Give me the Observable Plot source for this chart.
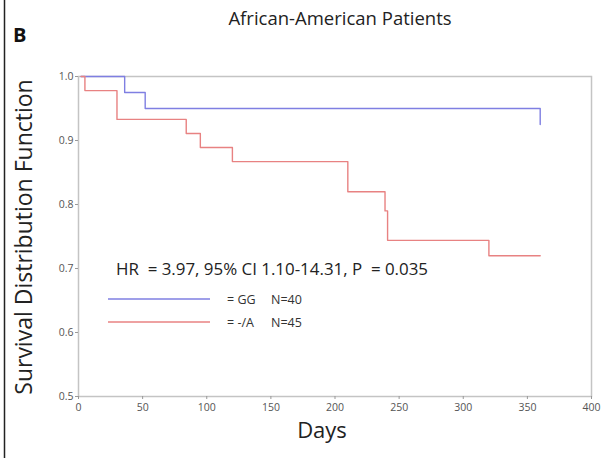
<!DOCTYPE html>
<html>
<head>
<meta charset="utf-8">
<script src="https://cdn.jsdelivr.net/npm/d3@7"></script>
<script src="https://cdn.jsdelivr.net/npm/@observablehq/plot@0.6"></script>
<style>
  body { margin: 0; background: #fff; }
  svg { font-family: "Open Sans", sans-serif; }
</style>
</head>
<body>
<div id="chart"></div>
<script>
// Data
const groups = ["= GG", "= -/A"];
const groupN = ["N=40", "N=45"];
const ggDays = [2, 36, 52, 360];
const ggSurv = [1.0, 0.975, 0.95, 0.925];
const aDays = [2, 5, 30, 84, 95, 120, 210, 239, 241, 320, 360];
const aSurv = [1.0, 0.978, 0.933, 0.911, 0.889, 0.867, 0.82, 0.79, 0.744, 0.72, 0.72];
const xTicks = [0, 50, 100, 150, 200, 250, 300, 350, 400];
const yTicks = [0.5, 0.6, 0.7, 0.8, 0.9, 1.0];
const colors = ["#7f7fe2", "#e88282"];
const title = "African-American Patients";
const panel = "B";
const statText = "HR\u00a0 = 3.97, 95% CI 1.10-14.31, P\u00a0 = 0.035";

const rows = [
  ...ggDays.map((d, i) => ({day: d, surv: ggSurv[i], group: groups[0]})),
  ...aDays.map((d, i) => ({day: d, surv: aSurv[i], group: groups[1]}))
];

const W = 602, H = 458;
const plot = Plot.plot({
  width: W, height: H,
  marginLeft: 78, marginRight: 11, marginTop: 76, marginBottom: 62,
  style: {fontFamily: "Open Sans, sans-serif", fontSize: "10.5px", color: "#555", background: "#fff"},
  x: {domain: [0, 400], ticks: xTicks, label: null},
  y: {domain: [0.5, 1.0], ticks: yTicks, label: null, tickFormat: d3.format(".1f")},
  color: {domain: groups, range: colors},
  marks: [
    Plot.frame({stroke: "#c4c4c4", strokeWidth: 1.5}),
    Plot.axisX({ticks: xTicks, tickSize: 3, tickPadding: 4, stroke: "#999", fill: "#555", label: null}),
    Plot.axisY({ticks: yTicks, tickSize: 3, tickPadding: 2, stroke: "#999", fill: "#555", label: null, tickFormat: d3.format(".1f")}),
    Plot.line(rows, {x: "day", y: "surv", z: "group", stroke: "group", curve: "step-after", strokeWidth: 1.4})
  ]
});
document.getElementById("chart").appendChild(plot);

const svg = d3.select(plot);
const g = svg.append("g").attr("text-anchor", "start").attr("fill", "#222");
// left border line of the figure panel
g.append("line").attr("x1", 4.5).attr("x2", 4.5).attr("y1", 0).attr("y2", H)
  .attr("stroke", "#222").attr("stroke-width", 1.5);
g.append("text").attr("x", 13).attr("y", 42).text(panel)
  .attr("font-size", 20).attr("font-weight", "bold").attr("fill", "#111");
g.append("text").attr("x", 340).attr("y", 25).attr("text-anchor", "middle").text(title)
  .attr("font-size", 18.5);
g.append("text").attr("transform", "translate(32,237) rotate(-90)").attr("text-anchor", "middle")
  .text("Survival Distribution Function").attr("font-size", 23);
g.append("text").attr("x", 322).attr("y", 438).attr("text-anchor", "middle").text("Days")
  .attr("font-size", 22);
g.append("text").attr("x", 116).attr("y", 275).text(statText)
  .attr("font-size", 16).attr("textLength", 312).attr("lengthAdjust", "spacingAndGlyphs");

groups.forEach((name, i) => {
  const yy = 299 + i * 23;
  g.append("line").attr("x1", 108).attr("x2", 210).attr("y1", yy).attr("y2", yy)
    .attr("stroke", colors[i]).attr("stroke-width", 1.5);
  g.append("text").attr("x", 227).attr("y", yy + 4.5).text(name).attr("font-size", 12.5).attr("fill", "#333");
  g.append("text").attr("x", 271).attr("y", yy + 4.5).text(groupN[i]).attr("font-size", 12.5).attr("fill", "#333");
});
</script>
</body>
</html>
